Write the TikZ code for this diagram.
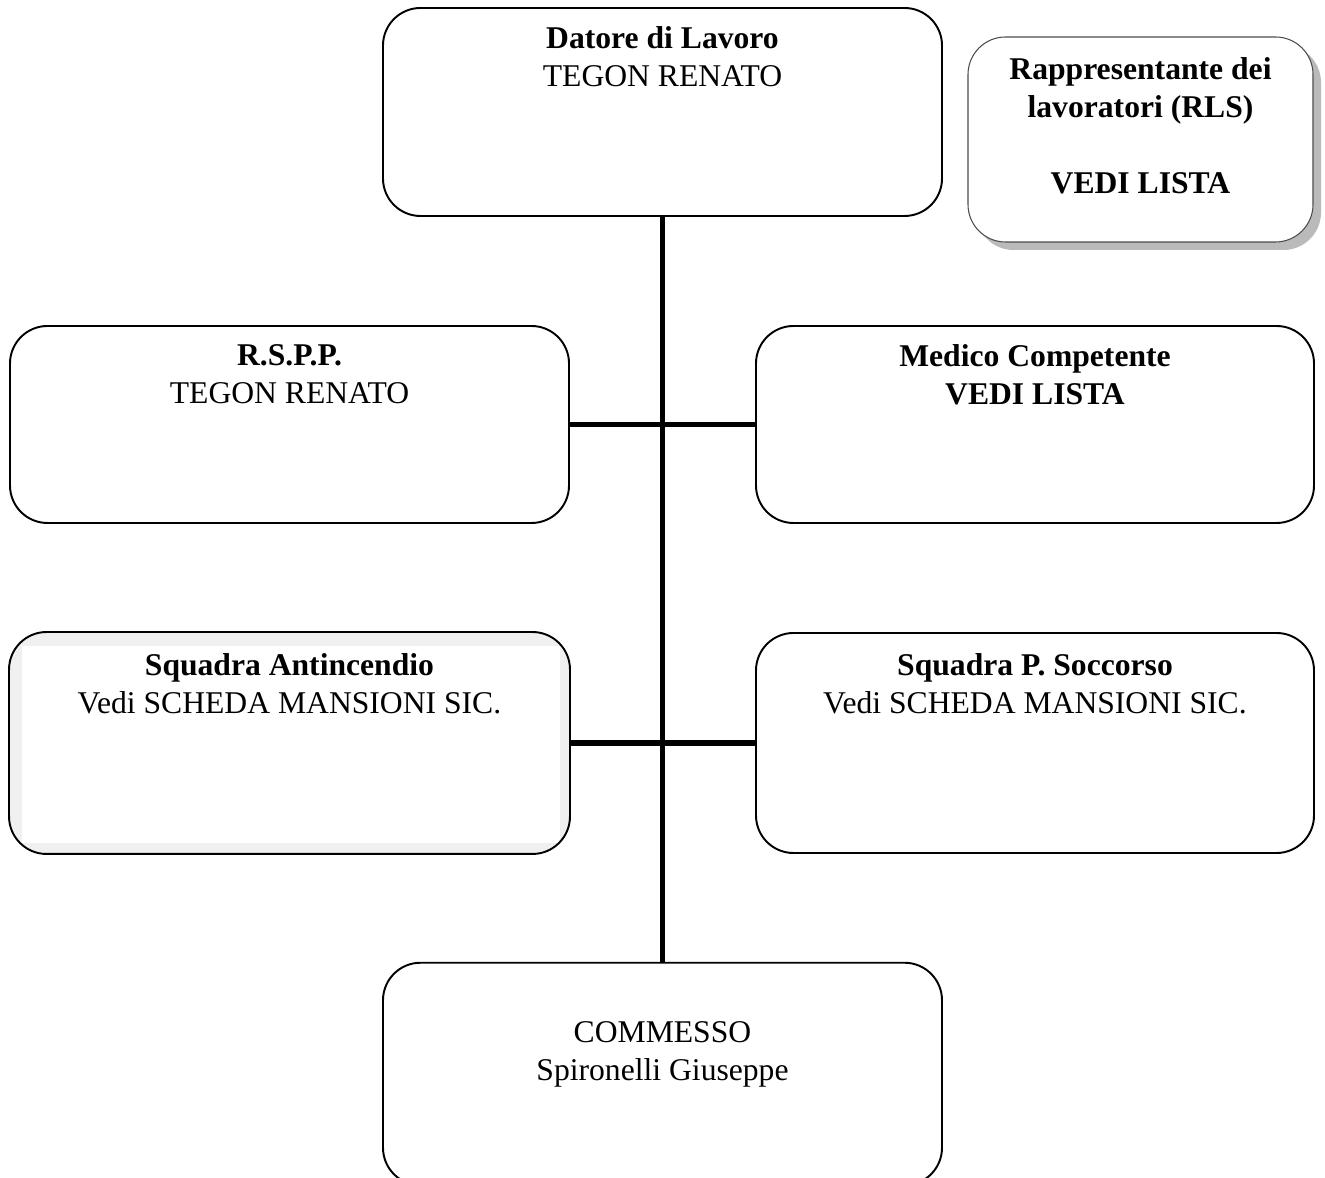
\documentclass[tikz,border=0pt]{standalone}
\usepackage{fontspec}
\setmainfont{Liberation Serif}
\usetikzlibrary{positioning,shadows}
\newcommand{\bigfs}{\fontsize{18}{21.6}\selectfont}

\begin{document}
\begin{tikzpicture}[
   box/.style={draw=black, line width=1.1pt, rounded corners=0.75cm, inner sep=0pt},
   boxtext/.style={align=center, inner sep=0pt, font=\bigfs},
   link/.style={line width=3pt}]
   \useasboundingbox (0,0) rectangle (26.5,23.56);
   % boxes
   \node[box, minimum width=11.18cm, minimum height=4.16cm] (datore) at (13.25,21.32) {};
   \node[box, draw=black!70, line width=0.6pt, fill=white, minimum width=6.9cm, minimum height=4.1cm,
         drop shadow={shadow xshift=0.16cm, shadow yshift=-0.16cm, fill=black!27, opacity=1}] (rls) at (22.81,20.77) {};
   \node[box, minimum width=11.18cm, minimum height=3.94cm] (rspp) at (5.79,15.07) {};
   \node[box, minimum width=11.16cm, minimum height=3.94cm] (medico) at (20.7,15.07) {};
   \node[box, draw=none, fill=black!6, minimum width=11.18cm, minimum height=4.4cm] (antinc) at (5.79,8.7) {};
   \fill[white] ([shift={(0.26,0.22)}]antinc.south west) rectangle ([shift={(-0.2,-0.28)}]antinc.north east);
   \draw[line width=1.1pt, rounded corners=0.75cm] (antinc.south west) rectangle (antinc.north east);
   \node[box, minimum width=11.16cm, minimum height=4.4cm] (soccorso) at (20.7,8.7) {};
   \node[box, minimum width=11.18cm, minimum height=4.45cm] (commesso) at (13.25,2.08) {};
   % connectors
   \draw[link] (datore.south) -- (commesso.north);
   \draw[link] (rspp.east) -- (medico.west);
   \draw[link] (antinc.east) -- (soccorso.west);
   % texts
   \node[boxtext, below=0.38cm of datore.north] (datoretxt) {\textbf{Datore di Lavoro}\\TEGON RENATO};
   \node[boxtext, below=0.42cm of rls.north] (rlstxt) {\textbf{Rappresentante dei}\\\textbf{lavoratori (RLS)}\\[21.6pt]\textbf{VEDI LISTA}};
   \node[boxtext, below=0.38cm of rspp.north] (rspptxt) {\textbf{R.S.P.P.}\\TEGON RENATO};
   \node[boxtext, below=0.38cm of medico.north] (medicotxt) {\textbf{Medico Competente}\\\textbf{VEDI LISTA}};
   \node[boxtext, below=0.42cm of antinc.north] (antinctxt) {\textbf{Squadra Antincendio}\\Vedi SCHEDA MANSIONI SIC.};
   \node[boxtext, below=0.42cm of soccorso.north] (soccorsotxt) {\textbf{Squadra P. Soccorso}\\Vedi SCHEDA MANSIONI SIC.};
   \node[boxtext, below=1.18cm of commesso.north] (commessotxt) {COMMESSO\\Spironelli Giuseppe};
\end{tikzpicture}
\end{document}
